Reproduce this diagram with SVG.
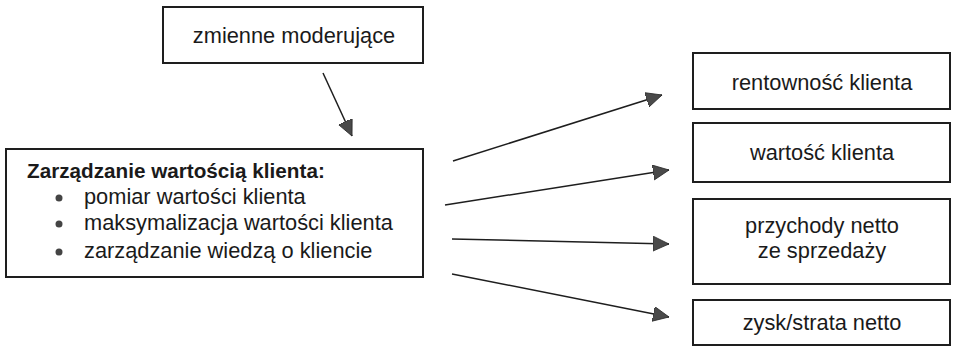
<svg xmlns="http://www.w3.org/2000/svg" width="953" height="348" viewBox="0 0 953 348">
<style>
.box{fill:#fff;stroke:#1e1e1e;stroke-width:2}
text{font-family:"Liberation Sans",Arial,sans-serif;font-size:21.8px;fill:#1a1a1a}
.c{text-anchor:middle}
.b{font-weight:bold;font-size:20.7px}
.con line{stroke:#1e1e1e;stroke-width:1.5;marker-end:url(#ah)}
</style>
<defs>
<marker id="ah" markerUnits="userSpaceOnUse" markerWidth="18" markerHeight="16" refX="16" refY="7.5" orient="auto">
<path d="M0,0 L16,7.5 L0,15 Z" fill="#4a4a4a" stroke="#2a2a2a" stroke-width="0.8"/>
</marker>
</defs>
<rect width="953" height="348" fill="#fff"/>
<g id="moderating">
<rect class="box" x="163" y="7" width="260" height="56"/>
<text class="c" x="294" y="43">zmienne moderujące</text>
</g>
<g id="cvm">
<rect class="box" x="6" y="149" width="417" height="128"/>
<text class="b" x="27" y="178">Zarządzanie wartością klienta:</text>
<circle cx="59" cy="198" r="3.5" fill="#444"/>
<text x="84" y="204">pomiar wartości klienta</text>
<circle cx="59" cy="224" r="3.5" fill="#444"/>
<text x="84" y="230">maksymalizacja wartości klienta</text>
<circle cx="59" cy="252" r="3.5" fill="#444"/>
<text x="84" y="258">zarządzanie wiedzą o kliencie</text>
</g>
<g id="profitability">
<rect class="box" x="693" y="53" width="257" height="56"/>
<text class="c" x="822" y="90">rentowność klienta</text>
</g>
<g id="value">
<rect class="box" x="693" y="123" width="257" height="59"/>
<text class="c" x="822" y="160">wartość klienta</text>
</g>
<g id="revenue">
<rect class="box" x="693" y="199" width="257" height="85"/>
<text class="c" x="822" y="233">przychody netto</text>
<text class="c" x="822" y="258">ze sprzedaży</text>
</g>
<g id="profit">
<rect class="box" x="693" y="300" width="257" height="45"/>
<text class="c" x="822" y="330">zysk/strata netto</text>
</g>
<g class="con" id="connectors">
<line x1="323" y1="73" x2="352" y2="136"/>
<line x1="453" y1="161" x2="662" y2="95"/>
<line x1="445" y1="205" x2="669" y2="170"/>
<line x1="452" y1="239" x2="669" y2="244"/>
<line x1="452" y1="274" x2="669" y2="317"/>
</g>
</svg>
